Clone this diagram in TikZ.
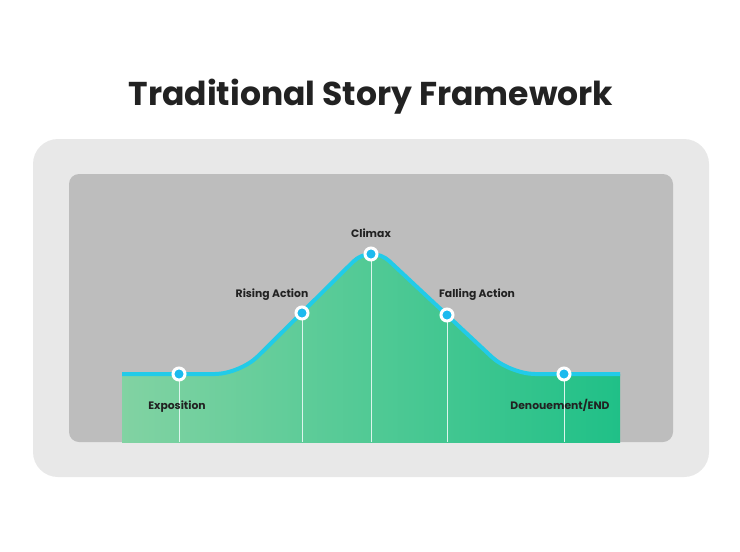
\documentclass[tikz,border=0pt]{standalone}
\usepackage{fontspec}
\setmainfont{Poppins}
\usetikzlibrary{positioning}
\definecolor{outergray}{HTML}{E8E8E8}
\definecolor{innergray}{HTML}{BDBDBD}
\definecolor{mintleft}{HTML}{8ED5A6}
\definecolor{mintright}{HTML}{14BE84}
\definecolor{arccyan}{HTML}{22CBE8}
\definecolor{dotcyan}{HTML}{1CBAEE}
\definecolor{ink}{HTML}{222222}
\begin{document}
\begin{tikzpicture}[x=1pt, y=-1pt,
    stage/.style={circle, draw=white, line width=3pt, fill=dotcyan, minimum size=12pt, inner sep=0pt},
    tag/.style={anchor=base, text=ink, font=\bfseries\fontsize{10.8}{12}\selectfont},
    arc/.style={arccyan, line width=4pt, rounded corners=25pt}]
    \useasboundingbox (0,0) rectangle (740,552);
    \fill[white] (0,0) rectangle (740,552);
    % Frames
    \fill[outergray, rounded corners=25pt] (33,139) rectangle (709,477);
    \fill[innergray, rounded corners=10pt] (69,174) rectangle (673,442);
    % Title
    \node[anchor=base, text=ink, font=\bfseries\fontsize{33}{38}\selectfont] (title) at (371,105) {Traditional Story Framework};
    % Area under the arc
    \begin{scope}
        \clip (122,200) rectangle (620,442);
        \shade[left color=mintleft, right color=mintright, rounded corners=25pt]
            (60,374) -- (240,374) -- (371,244) -- (510,374) -- (680,374) -- (680,500) -- (60,500) -- cycle;
    \end{scope}
    \coordinate (base) at (0,442);
    % Points on the arc
    \path (179,374) coordinate (expo)
          (302,313) coordinate (rise)
          (371,254) coordinate (climax)
          (447,315) coordinate (fall)
          (564,374) coordinate (denoue);
    \foreach \p in {expo, rise, climax, fall, denoue} {
            \draw[white!85!mintright, line width=0.8pt] (\p) -- (\p |- base);
        }
    \draw[arc] (122,374) -- (240,374) -- (371,244) -- (510,374) -- (620,374);
    \foreach \p in {expo, rise, climax, fall, denoue} {
            \node[stage] (\p-dot) at (\p) {};
        }
    % Labels
    \node[tag] (expo-tag) at (177,409) {Exposition};
    \node[tag] (rise-tag) at (272,297) {Rising Action};
    \node[tag] (climax-tag) at (371,237) {Climax};
    \node[tag] (fall-tag) at (477,297) {Falling Action};
    \node[tag] (denoue-tag) at (560,409) {Denouement/END};
\end{tikzpicture}
\end{document}
